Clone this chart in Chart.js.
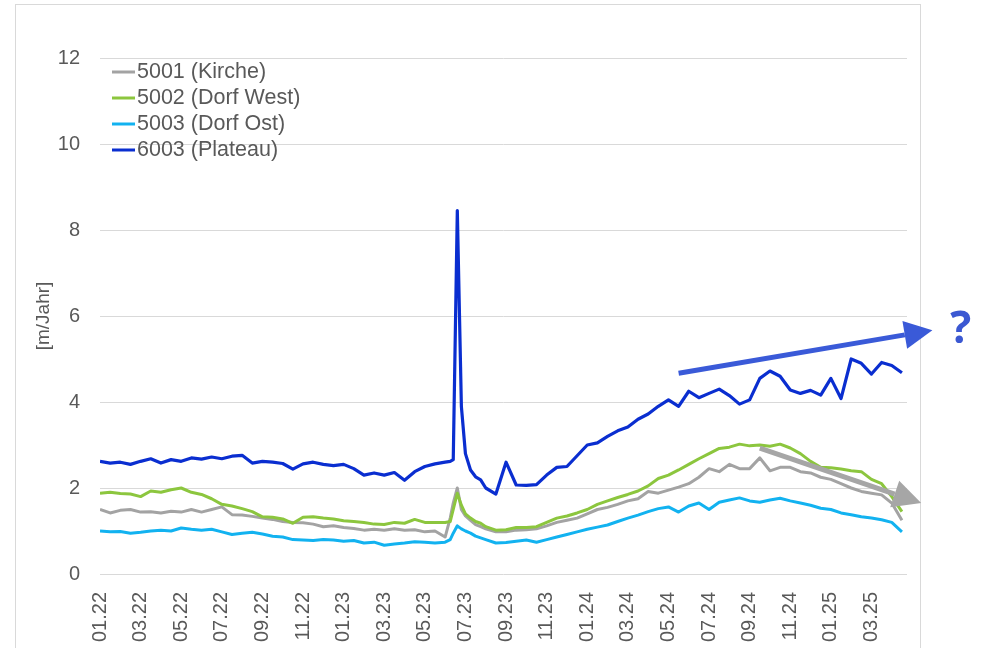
<!DOCTYPE html>
<html>
<head>
<meta charset="utf-8">
<script src="https://cdn.jsdelivr.net/npm/chart.js@4.4.1/dist/chart.umd.min.js"></script>
<style>
  html, body { margin: 0; padding: 0; background: #fff; }
  canvas { display: block; }
</style>
</head>
<body>
<canvas id="geschwChart" width="985" height="648"></canvas>
<script>
// x-Position: Monate seit 01.22
const months = [
  0, 0.5, 1, 1.5, 2, 2.5, 3, 3.5, 4, 4.5, 5, 5.5, 6, 6.5, 7, 7.5, 8, 8.5, 9, 9.5,
  10, 10.5, 11, 11.5, 12, 12.5, 13, 13.5, 14, 14.5, 15, 15.5, 16, 16.5, 17,
  17.25, 17.4, 17.6, 17.8, 18, 18.25, 18.5, 18.75,
  19, 19.5, 20, 20.5, 21, 21.5, 22, 22.5, 23, 23.5, 24, 24.5, 25, 25.5, 26, 26.5,
  27, 27.5, 28, 28.5, 29, 29.5, 30, 30.5, 31, 31.5, 32, 32.5, 33, 33.5, 34, 34.5,
  35, 35.5, 36, 36.5, 37, 37.5, 38, 38.5, 39, 39.5
];

const tickLabels = ['01.22', '03.22', '05.22', '07.22', '09.22', '11.22',
                    '01.23', '03.23', '05.23', '07.23', '09.23', '11.23',
                    '01.24', '03.24', '05.24', '07.24', '09.24', '11.24',
                    '01.25', '03.25'];

const kirche = [
  1.5, 1.42, 1.48, 1.5, 1.44, 1.45, 1.42, 1.46, 1.44, 1.5, 1.44, 1.5, 1.56, 1.38, 1.37, 1.34, 1.3, 1.27, 1.22, 1.2,
  1.19, 1.16, 1.1, 1.12, 1.08, 1.06, 1.02, 1.04, 1.02, 1.05, 1.02, 1.03, 0.98, 1.0, 0.86,
  1.3, 1.65, 2.0, 1.5, 1.35, 1.25, 1.15, 1.1,
  1.05, 0.98, 0.98, 1.02, 1.03, 1.05, 1.12, 1.2, 1.25, 1.3, 1.4, 1.5, 1.55, 1.62, 1.7, 1.75,
  1.92, 1.88, 1.95, 2.02, 2.1, 2.25, 2.45, 2.38, 2.55, 2.45, 2.45, 2.7, 2.4, 2.48, 2.48, 2.38,
  2.35, 2.25, 2.2, 2.1, 2.0, 1.92, 1.88, 1.84, 1.65, 1.25
];

const dorfWest = [
  1.88, 1.9, 1.87, 1.86, 1.8, 1.93, 1.9, 1.96, 2.0, 1.9, 1.85, 1.75, 1.62, 1.58, 1.52, 1.45, 1.33, 1.32, 1.28, 1.18,
  1.32, 1.33, 1.3, 1.28, 1.24, 1.22, 1.2, 1.16, 1.15, 1.2, 1.18, 1.27, 1.2, 1.2, 1.2,
  1.22, 1.5, 1.88, 1.6, 1.4, 1.3, 1.22, 1.18,
  1.1, 1.02, 1.03, 1.08, 1.08, 1.1, 1.2, 1.3, 1.35, 1.42, 1.5, 1.62, 1.7, 1.78, 1.85, 1.93,
  2.05, 2.22, 2.3, 2.42, 2.55, 2.68, 2.8, 2.92, 2.95, 3.02, 2.98, 3.0, 2.97, 3.02, 2.93, 2.8,
  2.62, 2.48, 2.47, 2.44, 2.4, 2.38, 2.2, 2.1, 1.8, 1.45
];

const dorfOst = [
  1.0, 0.98, 0.99, 0.95, 0.97, 1.0, 1.02, 1.0, 1.07, 1.04, 1.02, 1.04, 0.98, 0.92, 0.95, 0.97, 0.93, 0.88, 0.86, 0.8,
  0.79, 0.78, 0.8, 0.79, 0.76, 0.78, 0.72, 0.74, 0.67, 0.7, 0.72, 0.75, 0.74, 0.72, 0.74,
  0.8, 0.95, 1.12, 1.05, 1.0, 0.95, 0.88, 0.84,
  0.8, 0.72, 0.73, 0.76, 0.79, 0.74, 0.8, 0.86, 0.92, 0.98, 1.04, 1.09, 1.14, 1.22, 1.3, 1.37,
  1.45, 1.52, 1.56, 1.44, 1.58, 1.65, 1.5, 1.67, 1.72, 1.77, 1.7, 1.67, 1.72, 1.76, 1.7, 1.65,
  1.6, 1.53, 1.5, 1.42, 1.38, 1.33, 1.3, 1.26, 1.2, 0.98
];

const plateau = [
  2.62, 2.58, 2.6, 2.55, 2.62, 2.68, 2.58, 2.66, 2.62, 2.7, 2.67, 2.72, 2.68, 2.74, 2.76, 2.58, 2.62, 2.6, 2.57, 2.44,
  2.56, 2.6, 2.55, 2.52, 2.55, 2.45, 2.3, 2.35, 2.3, 2.36, 2.18, 2.38, 2.5, 2.56, 2.6,
  2.62, 2.66, 8.45, 3.9, 2.8, 2.42, 2.26, 2.19,
  2.0, 1.86, 2.6, 2.07, 2.06, 2.08, 2.3, 2.48, 2.5, 2.75, 3.0, 3.05, 3.2, 3.33, 3.42, 3.6,
  3.72, 3.9, 4.05, 3.9, 4.25, 4.1, 4.2, 4.3, 4.15, 3.95, 4.05, 4.55, 4.72, 4.6, 4.28, 4.2,
  4.27, 4.16, 4.55, 4.08, 5.0, 4.9, 4.65, 4.92, 4.85, 4.68
];

// Trendpfeile (in Datenkoordinaten: Monat, m/Jahr)
const arrows = [
  { from: [28.5, 4.67], to: [41.0, 5.67], color: '#3A5AD8' },
  { from: [32.5, 2.93], to: [40.45, 1.65], color: '#A6A6A6' }
];
const questionMark = { at: [42.4, 5.67], text: '?', color: '#3B58D2' };

const textColor = '#595959';
const gridColor = '#D9D9D9';

function points(values) {
  return months.map((m, i) => ({ x: m, y: values[i] }));
}

const frame = {
  id: 'frame',
  beforeDraw(chart) {
    const ctx = chart.ctx;
    ctx.save();
    ctx.strokeStyle = gridColor;
    ctx.lineWidth = 1;
    ctx.strokeRect(15.5, 4.5, 905, 700);
    ctx.restore();
  }
};

const insideLegend = {
  id: 'insideLegend',
  afterDraw(chart) {
    const ctx = chart.ctx;
    const x0 = chart.chartArea.left + 12;
    let y = chart.chartArea.top + 14;
    ctx.save();
    ctx.font = '21.5px "Liberation Sans", Arial, sans-serif';
    ctx.textBaseline = 'middle';
    chart.data.datasets.forEach(ds => {
      ctx.strokeStyle = ds.borderColor;
      ctx.lineWidth = 3;
      ctx.beginPath();
      ctx.moveTo(x0, y);
      ctx.lineTo(x0 + 23, y);
      ctx.stroke();
      ctx.fillStyle = textColor;
      ctx.fillText(ds.label, x0 + 25, y);
      y += 26;
    });
    ctx.restore();
  }
};

const trendArrows = {
  id: 'trendArrows',
  afterDraw(chart) {
    const ctx = chart.ctx;
    const sx = chart.scales.x, sy = chart.scales.y;
    ctx.save();
    arrows.forEach(a => {
      const x1 = sx.getPixelForValue(a.from[0]), y1 = sy.getPixelForValue(a.from[1]);
      const x2 = sx.getPixelForValue(a.to[0]), y2 = sy.getPixelForValue(a.to[1]);
      const ang = Math.atan2(y2 - y1, x2 - x1);
      const headLen = 28, headW = 14;
      const bx = x2 - headLen * Math.cos(ang), by = y2 - headLen * Math.sin(ang);
      ctx.strokeStyle = a.color;
      ctx.fillStyle = a.color;
      ctx.lineWidth = 5;
      ctx.beginPath();
      ctx.moveTo(x1, y1);
      ctx.lineTo(bx, by);
      ctx.stroke();
      ctx.beginPath();
      ctx.moveTo(x2, y2);
      ctx.lineTo(bx + headW * Math.sin(ang), by - headW * Math.cos(ang));
      ctx.lineTo(bx - headW * Math.sin(ang), by + headW * Math.cos(ang));
      ctx.closePath();
      ctx.fill();
    });
    ctx.fillStyle = questionMark.color;
    ctx.font = 'bold 44px "Open Sans", sans-serif';
    ctx.textAlign = 'center';
    ctx.textBaseline = 'middle';
    ctx.fillText(questionMark.text,
      sx.getPixelForValue(questionMark.at[0]), sy.getPixelForValue(questionMark.at[1]));
    ctx.restore();
  }
};

new Chart(document.getElementById('geschwChart').getContext('2d'), {
  type: 'line',
  data: {
    datasets: [
      { label: '5001 (Kirche)', data: points(kirche), borderColor: '#A3A3A3', borderWidth: 3, order: 4 },
      { label: '5002 (Dorf West)', data: points(dorfWest), borderColor: '#8CC63E', borderWidth: 3, order: 3 },
      { label: '5003 (Dorf Ost)', data: points(dorfOst), borderColor: '#12B2F0', borderWidth: 3, order: 2 },
      { label: '6003 (Plateau)', data: points(plateau), borderColor: '#0A2ED0', borderWidth: 3.2, order: 1 }
    ]
  },
  options: {
    responsive: false,
    animation: false,
    layout: { padding: { top: 58, right: 78, left: 32, bottom: 0 } },
    elements: {
      point: { radius: 0 },
      line: { tension: 0, borderJoinStyle: 'round' }
    },
    scales: {
      x: {
        type: 'linear',
        min: 0,
        max: 39.75,
        afterBuildTicks: scale => {
          scale.ticks = tickLabels.map((_, i) => ({ value: i * 2 }));
        },
        afterFit: scale => { scale.height = 74; },
        grid: { display: false },
        border: { display: false },
        ticks: {
          autoSkip: false,
          minRotation: 90,
          maxRotation: 90,
          padding: 10,
          color: textColor,
          font: { family: '"Liberation Sans", Arial, sans-serif', size: 20 },
          callback: v => tickLabels[v / 2]
        }
      },
      y: {
        min: 0,
        max: 12,
        afterFit: scale => { scale.width = 68; },
        grid: { color: gridColor, drawTicks: false },
        border: { display: false },
        ticks: {
          stepSize: 2,
          padding: 20,
          color: textColor,
          font: { family: '"Liberation Sans", Arial, sans-serif', size: 20 }
        },
        title: {
          display: true,
          text: '[m/Jahr]',
          color: textColor,
          font: { family: '"Liberation Sans", Arial, sans-serif', size: 19 },
          padding: { top: 0, bottom: 0 }
        }
      }
    },
    plugins: {
      legend: { display: false },
      tooltip: { enabled: false }
    }
  },
  plugins: [frame, insideLegend, trendArrows]
});
</script>
</body>
</html>
